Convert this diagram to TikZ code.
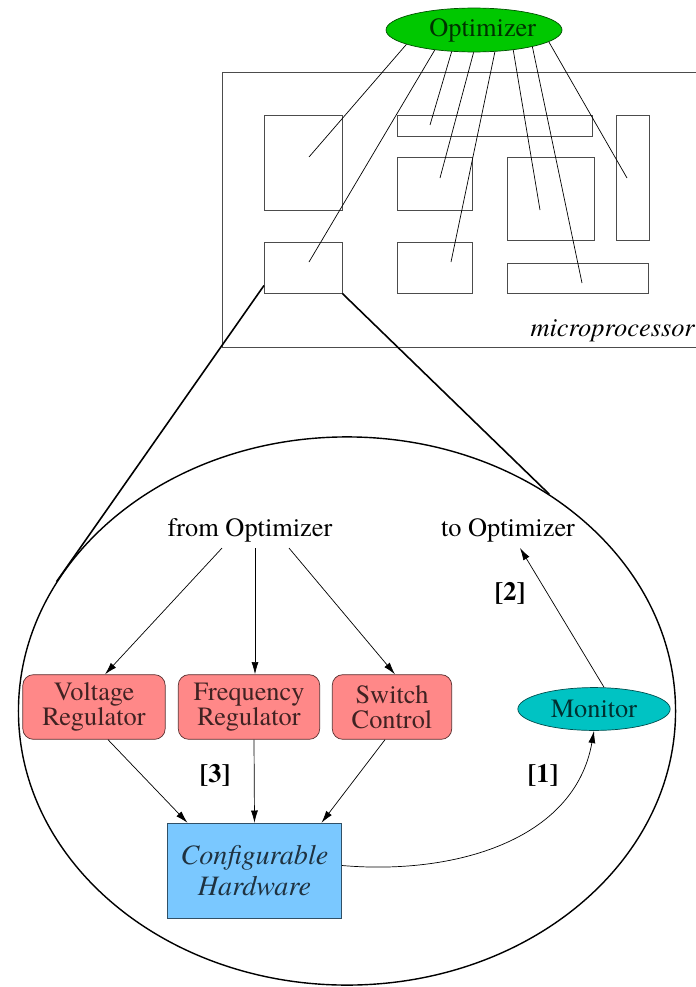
\documentclass[tikz,border=0pt]{standalone}
\usepackage{fontspec}
\setmainfont{texgyretermes}[Extension=.otf,UprightFont=*-regular,BoldFont=*-bold,ItalicFont=*-italic,BoldItalicFont=*-bolditalic]
\usetikzlibrary{arrows.meta,shapes}
\definecolor{optgreen}{RGB}{0,200,0}
\definecolor{regpink}{RGB}{255,136,136}
\definecolor{moncyan}{RGB}{0,195,195}
\definecolor{hwblue}{RGB}{122,200,255}
\tikzstyle{chip}=[draw=black!70,thin,inner sep=0pt,anchor=north west]
\tikzstyle{wire}=[draw,thin]
\tikzstyle{arr}=[draw,thin,-{Latex[length=7pt,width=4pt]}]
\tikzstyle{zoomline}=[draw,line width=0.9pt]
\tikzstyle{oval}=[ellipse,draw,inner sep=0pt]
\tikzstyle{regbox}=[rectangle,rounded corners=6pt,draw=regpink!35!black,fill=regpink,text=regpink!25!black,align=center,minimum height=36.8pt]
\tikzstyle{tag}=[font=\fontsize{15}{14}\selectfont\bfseries]

\begin{document}
\begin{tikzpicture}[x=0.02cm,y=-0.02cm,font=\fontsize{15}{14}\selectfont]
    \useasboundingbox (0,0) rectangle (696,987);
    % the chip and its units
    \draw[draw=black!70] (222,72) rectangle (705,347);
    \node[anchor=base east,inner sep=0pt,font=\fontsize{15}{14}\selectfont\itshape] (mp) at (695,336) {microprocessor};
    \foreach \corner/\w/\h/\name in {{(264,115)/44.2/53.9/c1}, {(397,115)/111.1/11.9/c2},
    {(616,115)/18.7/70.9/c3}, {(397,157)/42.5/30.0/c4}, {(507,157)/49.3/47.1/c5},
    {(264,242)/44.2/28.9/c6}, {(397,242)/42.5/28.9/c7}, {(507,263)/80.5/17.0/c8}}
        \node[chip,minimum width=\w pt,minimum height=\h pt] (\name) at \corner {};
    \node[oval,draw=optgreen!40!black,fill=optgreen,text=optgreen!25!black,minimum width=100pt,minimum height=25pt]
        (opt) at (474,30) {\hspace*{10pt}Optimizer};
    \foreach \pos/\name in {{(309,157)/p1}, {(309,262)/p2}, {(430,125)/p3}, {(440,178)/p4},
    {(451,262)/p5}, {(540,210)/p6}, {(582,283)/p7}, {(627,178)/p8}}
        \node[coordinate] (\name) at \pos {};
    \draw[wire] (opt.192) -- (p1);
    \draw[wire] (opt.207) -- (p2);
    \draw[wire] (opt.224) -- (p3);
    \draw[wire] (opt.269) -- (p4);
    \draw[wire] (opt.314) -- (p5);
    \draw[wire] (opt.333) -- (p6);
    \draw[wire] (opt.344) -- (p7);
    \draw[wire] (opt.351) -- (p8);

    % zoomed unit
    \node[oval,line width=0.8pt,minimum width=374pt,minimum height=312pt] (lens) at (347,711) {};
    \path[zoomline] ([shift={(0,-8)}]c6.south west) -- (lens.156);
    \path[zoomline] (c6.south east) -- (lens.47);

    \node (fromopt) at (250,530) {from Optimizer};
    \node (toopt) at (508,530) {to Optimizer};
    \node[regbox,minimum width=81pt] (volt) at (94,707) {Voltage\\Regulator};
    \node[regbox,minimum width=80.5pt] (freq) at (249,707) {Frequency\\Regulator};
    \node[regbox,minimum width=68pt] (sw) at (392,707) {Switch\\Control};
    \node[oval,draw=moncyan!40!black,fill=moncyan,text=moncyan!25!black,minimum width=86.7pt,minimum height=24.4pt]
        (mon) at (594,709) {Monitor};
    \node[rectangle,draw=hwblue!40!black,fill=hwblue,text=hwblue!25!black,minimum width=99.2pt,minimum height=53.9pt,
        align=center,font=\fontsize{16}{17.5}\selectfont\itshape] (hw) at (254.5,870.5) {Configurable\\Hardware};

    \path[arr] ([shift={(-28,0)}]fromopt.south) -- ([shift={(11,0)}]volt.north);
    \path[arr] ([shift={(5,0)}]fromopt.south) -- ([shift={(6,0)}]freq.north);
    \path[arr] ([shift={(39,0)}]fromopt.south) -- ([shift={(3,0)}]sw.north);
    \path[arr] ([shift={(14,0)}]volt.south) -- ([shift={(-67,0)}]hw.north);
    \path[arr] ([shift={(5,0)}]freq.south) -- (hw.north);
    \path[arr] ([shift={(-7,0)}]sw.south) -- ([shift={(67,0)}]hw.north);
    \path[arr] ([shift={(10,0)}]mon.north) -- ([shift={(12,0)}]toopt.south);
    \path[arr] ([shift={(0,-5)}]hw.east) to[out=-5,in=-100] (mon.south);

    \node[tag] (t3) at (215,775) {[3]};
    \node[tag] (t1) at (543,775) {[1]};
    \node[tag] (t2) at (510,593) {[2]};
\end{tikzpicture}
\end{document}
